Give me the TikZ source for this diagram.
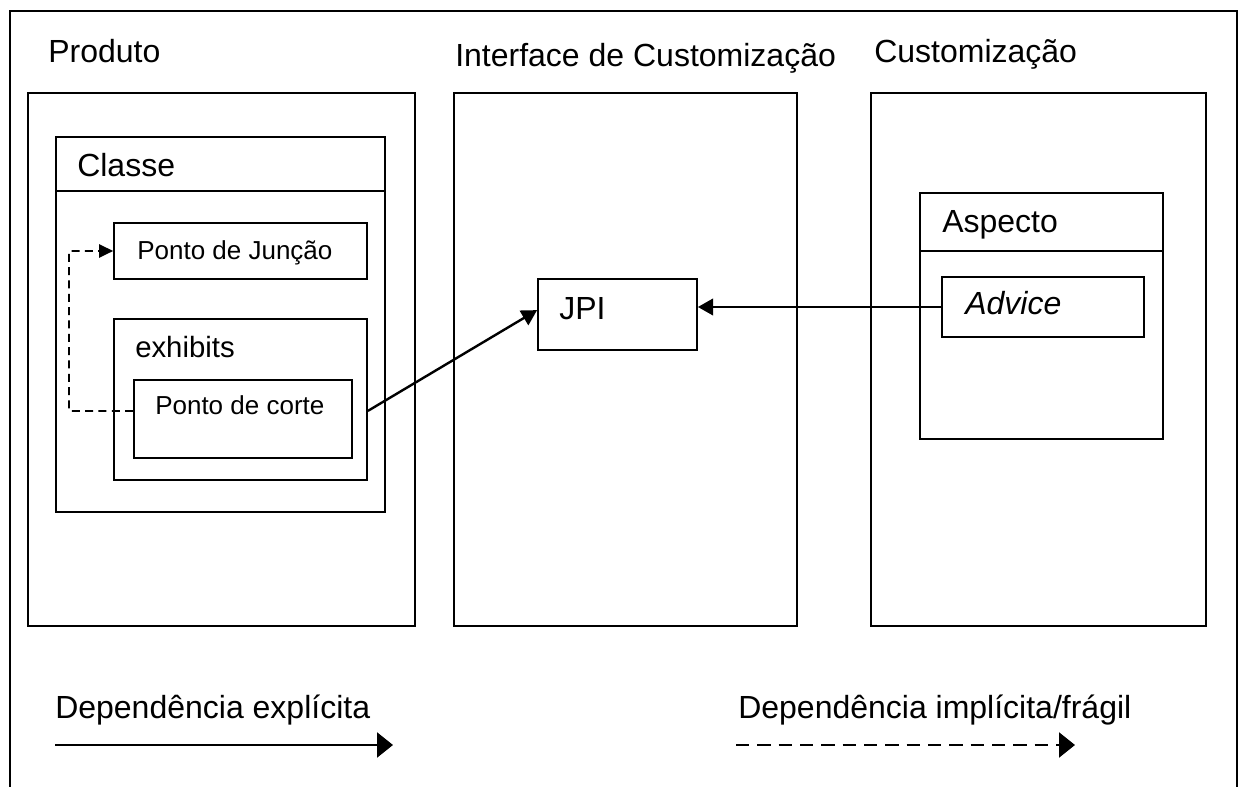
\documentclass[tikz,border=0pt]{standalone}
\usepackage{fontspec}
\setmainfont{Liberation Sans}
\usetikzlibrary{arrows.meta,fit,calc}

\tikzset{
  box/.style={draw, line width=1.35pt, inner sep=0pt},
  big/.style={font=\fontsize{24}{29}\selectfont, inner sep=0pt, anchor=base west},
  mid/.style={font=\fontsize{22}{27}\selectfont, inner sep=0pt, anchor=base west},
  small/.style={font=\fontsize{19.5}{24}\selectfont, inner sep=0pt, anchor=base west},
  conn/.style={line width=1.8pt, -{Triangle[length=11.5pt, width=12.5pt]}},
  weak/.style={line width=1.4pt, dash pattern=on 6pt off 4pt, -{Triangle[length=10.5pt, width=10pt]}},
  legsolid/.style={line width=1.8pt, -{Triangle[length=12pt, width=18.75pt]}},
  legdash/.style={line width=1.8pt, dash pattern=on 10pt off 6pt, -{Triangle[length=12pt, width=18.75pt]}}
}

\begin{document}
\begin{tikzpicture}[x=0.75pt, y=-0.75pt]
\useasboundingbox (0,0) rectangle (1239,787);

% open outer frame
\draw[line width=2pt] (10,787) -- (10,11) -- (1237,11) -- (1237,787);

% the three columns
\node[box, fit={(28,93) (415,626)}] (produto) {};
\node[box, fit={(454,93) (797,626)}] (interface) {};
\node[box, fit={(871,93) (1206,626)}] (custom) {};

\node[big] (tproduto) at (48,63) {Produto};
\node[big] (tinterface) at (455,67) {Interface de Customização};
\node[big] (tcustom) at (874,63) {Customização};

% class with its join point and pointcut
\node[box, fit={(56,137) (385,512)}] (classe) {};
\draw[line width=1.35pt] ($(classe.north west)+(0,55)$) -- ($(classe.north east)+(0,55)$);
\node[big] (tclasse) at (77,177) {Classe};

\node[box, fit={(114,223) (367,279)}] (juncao) {};
\node[small] (tjuncao) at (137,260) {Ponto de Junção};

\node[box, fit={(114,319) (367,480)}] (exhibits) {};
\node[mid] (texhibits) at (135,358) {exhibits};

\node[box, fit={(134,380) (352,458)}] (corte) {};
\node[small] (tcorte) at (155,415) {Ponto de corte};

% join point interface
\node[box, fit={(538,279) (697,350)}] (jpi) {};
\node[big] (tjpi) at (559,320) {JPI};

% aspect with its advice
\node[box, fit={(920,193) (1163,439)}] (aspecto) {};
\draw[line width=1.35pt] ($(aspecto.north west)+(0,59)$) -- ($(aspecto.north east)+(0,59)$);
\node[big] (taspecto) at (942,233) {Aspecto};

\node[box, fit={(942,277) (1144,337)}] (advice) {};
\node[big] (tadvice) at (965,315) {\itshape Advice};

% dependencies
\coordinate (cortel) at ($(corte.north west)!0.4!(corte.south west)$);
\coordinate (bend) at (69,411);
\draw[weak] (cortel) -- (bend) |- (juncao.west);

\coordinate (exhr) at ($(exhibits.north east)!0.57!(exhibits.south east)$);
\draw[conn] (exhr) -- ($(jpi.north west)!0.44!(jpi.south west)$);

\draw[conn] (advice.west) -- (advice.west -| jpi.east);

% legend
\node[big] (lexpl) at (55,718) {Dependência explícita};
\node[big] (limpl) at (738,718) {Dependência implícita/frágil};
\coordinate (la) at (55,745);
\coordinate (lb) at (393,745);
\coordinate (lc) at (736,745);
\coordinate (ld) at (1075,745);
\draw[legsolid] (la) -- (lb);
\draw[legdash] (lc) -- (ld);
\end{tikzpicture}
\end{document}
